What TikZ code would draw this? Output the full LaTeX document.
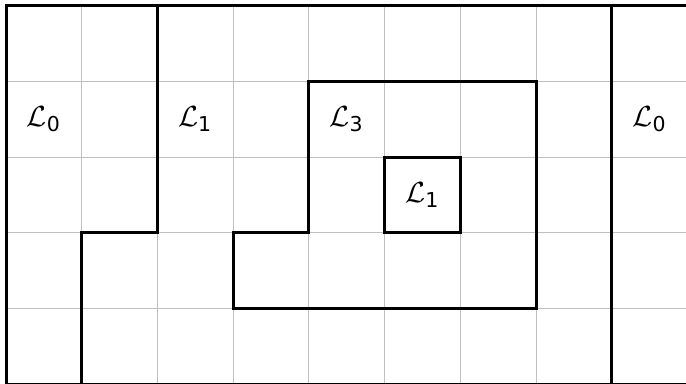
\documentclass[tikz,border=0pt]{standalone}
\usepackage{amsmath,amssymb}
\usepackage{fontspec}
\setmainfont{DejaVu Sans}
\tikzset{
  cellgrid/.style={black!25,line width=0.4pt},
  wall/.style={draw=black,line width=1.1pt},
  lbl/.style={font=\fontsize{11}{13}\selectfont,inner sep=1pt}
}
\newcommand{\regname}[1]{$\mathcal{L}_{\text{#1}}$}

\begin{document}
\begin{tikzpicture}
\useasboundingbox (-0.08,0.006) rectangle (8.98,5.076);
\draw[cellgrid] (0,0) grid (9,5);
% region borders
\draw[wall] (0,0) rectangle (9,5);
\draw[wall] (2,5)--(2,2)--(1,2)--(1,0);
\draw[wall] (8,0)--(8,5);
\draw[wall] (4,4)--(7,4)--(7,1)--(3,1)--(3,2)--(4,2)--cycle;
\draw[wall] (5,2) rectangle (6,3);
% labels
\node[lbl](la)at(0.5,3.5){\regname{0}};
\node[lbl](lb)at(2.5,3.5){\regname{1}};
\node[lbl](lc)at(4.5,3.5){\regname{3}};
\node[lbl](ld)at(5.5,2.5){\regname{1}};
\node[lbl](le)at(8.5,3.5){\regname{0}};
\end{tikzpicture}
\end{document}
